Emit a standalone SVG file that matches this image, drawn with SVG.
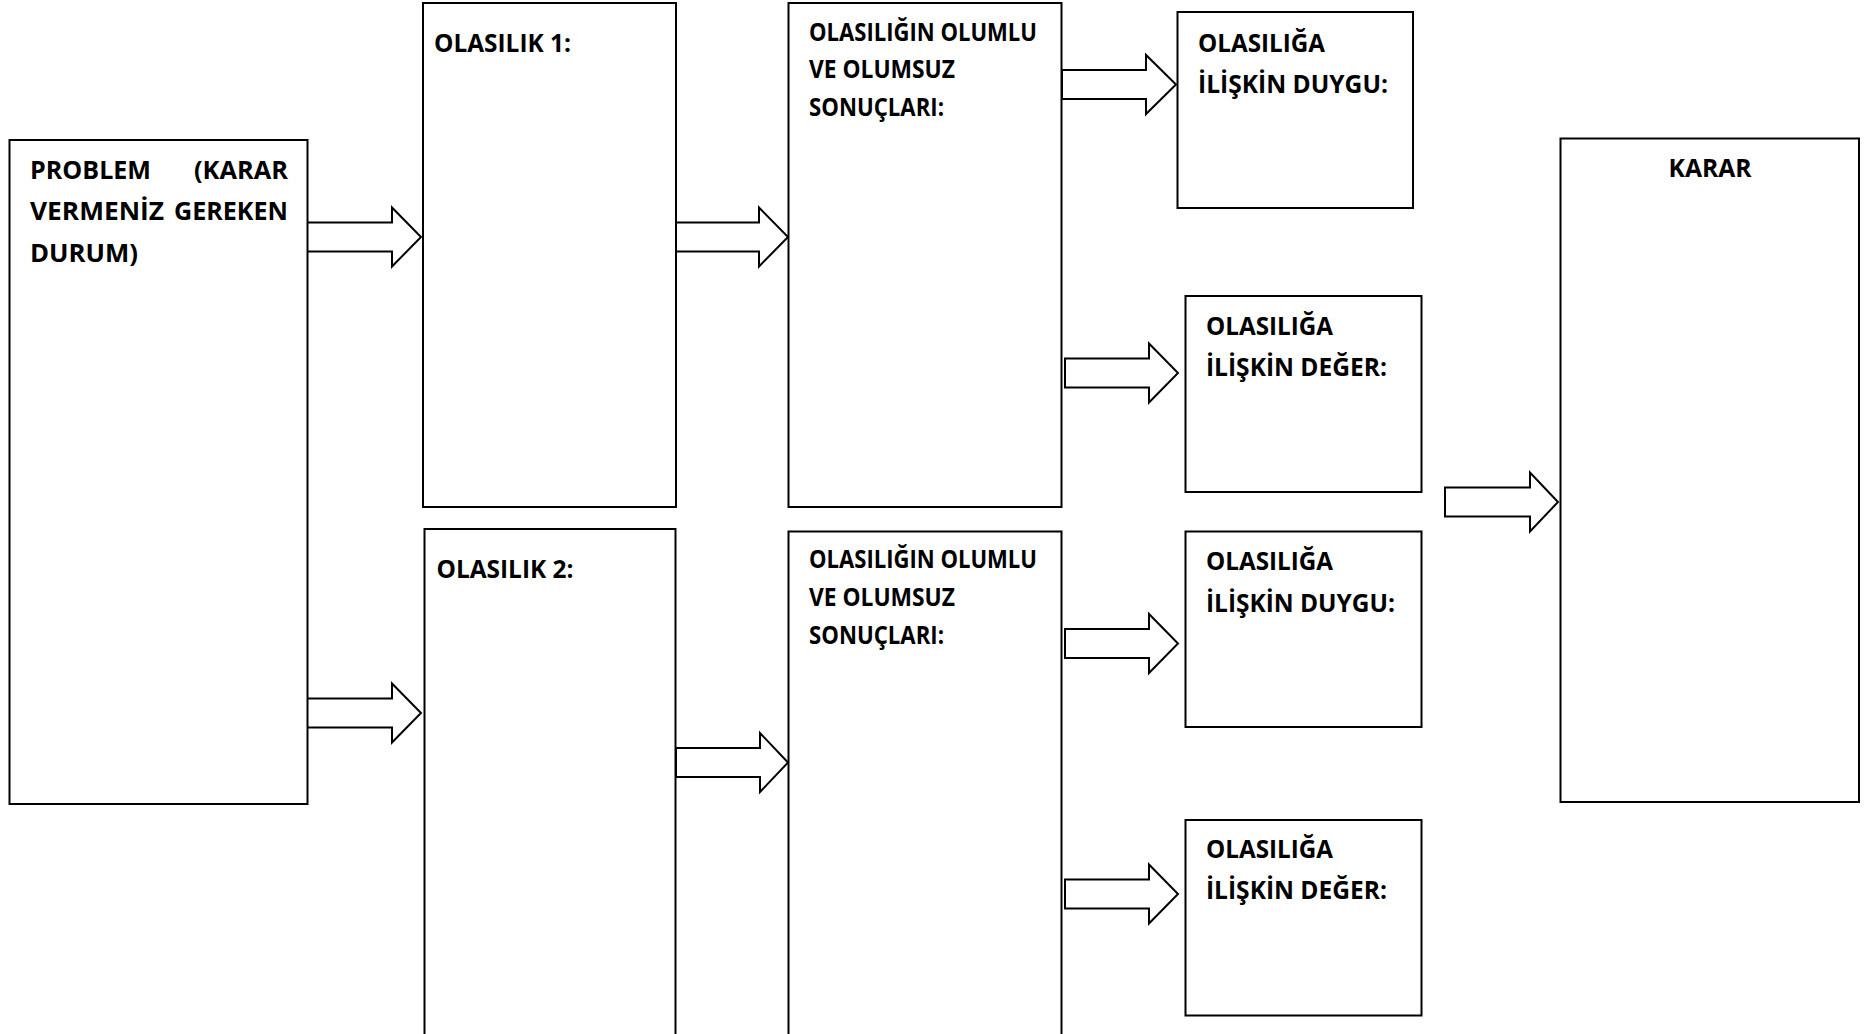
<svg xmlns="http://www.w3.org/2000/svg" width="1865" height="1034" viewBox="0 0 1865 1034">
<style>
.box{fill:#fff;stroke:#000;stroke-width:2}
.arr{fill:#fff;stroke:#000;stroke-width:2;stroke-linejoin:miter}
.t{font-family:"Open Sans","Noto Sans","Liberation Sans",sans-serif;font-weight:bold;font-size:24.5px;fill:#000}
</style>
<rect width="1865" height="1034" fill="#fff"/>
<g id="connectors">
<polygon class="arr" points="307,222.5 392,222.5 392,207.5 421,237 392,266.5 392,251.5 307,251.5"/>
<polygon class="arr" points="676,222.5 759,222.5 759,207.5 788,237 759,266.5 759,251.5 676,251.5"/>
<polygon class="arr" points="1062,70 1146,70 1146,55 1176,84.5 1146,114 1146,99 1062,99"/>
<polygon class="arr" points="1065,358.5 1149,358.5 1149,343.5 1178,373 1149,402.5 1149,387.5 1065,387.5"/>
<polygon class="arr" points="1445,487.5 1530,487.5 1530,472.5 1558,502 1530,531.5 1530,516.5 1445,516.5"/>
<polygon class="arr" points="307,698.5 392,698.5 392,683.5 421,713 392,742.5 392,727.5 307,727.5"/>
<polygon class="arr" points="676,748 760,748 760,733 788,762.5 760,792 760,777 676,777"/>
<polygon class="arr" points="1065,629 1149,629 1149,614 1178,643.5 1149,673 1149,658 1065,658"/>
<polygon class="arr" points="1065,879.5 1149,879.5 1149,864.5 1178,894 1149,923.5 1149,908.5 1065,908.5"/>
</g>
<g id="problem">
<rect class="box" x="9.5" y="140" width="298" height="664"/>
<text class="t" x="30" y="178.5" textLength="121" lengthAdjust="spacingAndGlyphs">PROBLEM</text>
<text class="t" x="194" y="178.5" textLength="94" lengthAdjust="spacingAndGlyphs">(KARAR</text>
<text class="t" x="30" y="220" textLength="134" lengthAdjust="spacingAndGlyphs">VERMENİZ</text>
<text class="t" x="174" y="220" textLength="114" lengthAdjust="spacingAndGlyphs">GEREKEN</text>
<text class="t" x="30" y="261.5" textLength="108" lengthAdjust="spacingAndGlyphs">DURUM)</text>
</g>
<g id="olasilik1">
<rect class="box" x="423" y="3" width="253" height="504"/>
<text class="t" x="434" y="51.5" textLength="137" lengthAdjust="spacingAndGlyphs">OLASILIK 1:</text>
</g>
<g id="sonuc1">
<rect class="box" x="788.5" y="3" width="273" height="504"/>
<text class="t" x="809" y="40.5" textLength="228" lengthAdjust="spacingAndGlyphs">OLASILIĞIN OLUMLU</text>
<text class="t" x="809" y="77.5" textLength="146" lengthAdjust="spacingAndGlyphs">VE OLUMSUZ</text>
<text class="t" x="809" y="115.5" textLength="135" lengthAdjust="spacingAndGlyphs">SONUÇLARI:</text>
</g>
<g id="duygu1">
<rect class="box" x="1177.5" y="12" width="235.5" height="196"/>
<text class="t" x="1198" y="51.5" textLength="127" lengthAdjust="spacingAndGlyphs">OLASILIĞA</text>
<text class="t" x="1198" y="93" textLength="190" lengthAdjust="spacingAndGlyphs">İLİŞKİN DUYGU:</text>
</g>
<g id="deger1">
<rect class="box" x="1185.5" y="296" width="236" height="196"/>
<text class="t" x="1206" y="334.5" textLength="127" lengthAdjust="spacingAndGlyphs">OLASILIĞA</text>
<text class="t" x="1206" y="376" textLength="181" lengthAdjust="spacingAndGlyphs">İLİŞKİN DEĞER:</text>
</g>
<g id="olasilik2">
<rect class="box" x="424.5" y="529" width="251" height="515"/>
<text class="t" x="436.5" y="578" textLength="137" lengthAdjust="spacingAndGlyphs">OLASILIK 2:</text>
</g>
<g id="sonuc2">
<rect class="box" x="788.5" y="531.5" width="273" height="515"/>
<text class="t" x="809" y="567.5" textLength="228" lengthAdjust="spacingAndGlyphs">OLASILIĞIN OLUMLU</text>
<text class="t" x="809" y="605.5" textLength="146" lengthAdjust="spacingAndGlyphs">VE OLUMSUZ</text>
<text class="t" x="809" y="643.5" textLength="135" lengthAdjust="spacingAndGlyphs">SONUÇLARI:</text>
</g>
<g id="duygu2">
<rect class="box" x="1185.5" y="531.5" width="236" height="195.5"/>
<text class="t" x="1206" y="570" textLength="127" lengthAdjust="spacingAndGlyphs">OLASILIĞA</text>
<text class="t" x="1206" y="611.5" textLength="189" lengthAdjust="spacingAndGlyphs">İLİŞKİN DUYGU:</text>
</g>
<g id="deger2">
<rect class="box" x="1185.5" y="820" width="236" height="195.5"/>
<text class="t" x="1206" y="857.5" textLength="127" lengthAdjust="spacingAndGlyphs">OLASILIĞA</text>
<text class="t" x="1206" y="899" textLength="181" lengthAdjust="spacingAndGlyphs">İLİŞKİN DEĞER:</text>
</g>
<g id="karar">
<rect class="box" x="1560.5" y="138.5" width="298.5" height="663.5"/>
<text class="t" x="1710" y="177" text-anchor="middle" textLength="83" lengthAdjust="spacingAndGlyphs">KARAR</text>
</g>
</svg>
